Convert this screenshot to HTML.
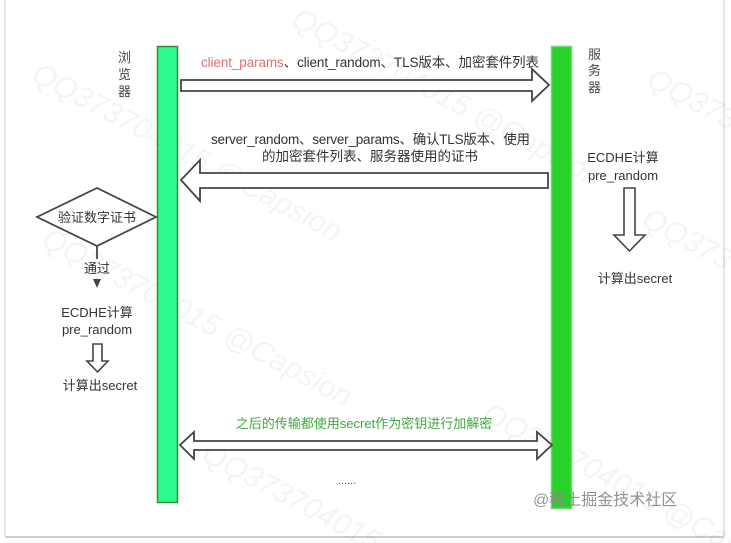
<!DOCTYPE html>
<html><head><meta charset="utf-8"><style>
html,body{margin:0;padding:0;background:#fff;width:731px;height:543px;overflow:hidden;}
svg{display:block;}
text{font-family:"Liberation Sans","Noto Sans CJK SC",sans-serif;}
</style></head><body>
<svg width="731" height="543" viewBox="0 0 731 543" xmlns="http://www.w3.org/2000/svg">
<rect x="0" y="0" width="731" height="543" fill="#fff"/>
<line x1="5" y1="0" x2="5" y2="536" stroke="#ddd" stroke-width="1.5"/>
<line x1="724" y1="0" x2="724" y2="536" stroke="#ddd" stroke-width="1.5"/>
<line x1="5" y1="537" x2="724" y2="537" stroke="#ccc" stroke-width="2"/>

<g fill="#000" opacity="0.045" font-size="30" font-family="Liberation Serif" font-style="italic">
<text transform="translate(30,80) rotate(28)">QQ373704015 @Capsion</text>
<text transform="translate(40,245) rotate(28)">QQ373704015 @Capsion</text>
<text transform="translate(290,25) rotate(28)">QQ373704015 @Capsion</text>
<text transform="translate(645,85) rotate(28)">QQ373</text>
<text transform="translate(640,225) rotate(28)">QQ373</text>
<text transform="translate(200,460) rotate(28)">QQ373704015 @Capsion</text>
<text transform="translate(480,420) rotate(28)">QQ373704015 @Cap</text>
</g>

<rect x="157.5" y="46.5" width="20" height="456" fill="#2bfb8b" stroke="#3a8a3a" stroke-width="1.5"/>
<rect x="551.5" y="46.5" width="20" height="462" fill="#2ad12a" stroke="#6fd86f" stroke-width="1.5"/>

<g font-size="13" fill="#444">
<text x="118" y="62">浏</text><text x="118" y="79">览</text><text x="118" y="96">器</text>
<text x="588" y="59">服</text><text x="588" y="75">务</text><text x="588" y="92">器</text>
</g>

<text x="201" y="67" font-size="13.5" fill="#333" textLength="338"><tspan fill="#e07070">client_params</tspan>、client_random、TLS版本、加密套件列表</text>
<polygon points="181,80 532,80 532,69 549,85 532,101 532,91 181,91" fill="#fff" stroke="#444" stroke-width="1.8"/>

<text x="211" y="144" font-size="13.5" fill="#333" textLength="319">server_random、server_params、确认TLS版本、使用</text>
<text x="370" y="161" font-size="13.5" fill="#333" text-anchor="middle">的加密套件列表、服务器使用的证书</text>
<polygon points="548,173 200,173 200,160 181,180 200,201 200,188 548,188" fill="#fff" stroke="#444" stroke-width="1.8"/>

<polygon points="37,217 97,188 156,217 97,246" fill="#fff" stroke="#444" stroke-width="1.8"/>
<text x="97" y="222" font-size="13" fill="#333" text-anchor="middle">验证数字证书</text>
<line x1="97" y1="246" x2="97" y2="259" stroke="#444" stroke-width="1.8"/>
<text x="97" y="273" font-size="13" fill="#333" text-anchor="middle">通过</text>
<polygon points="93,279 101,279 97,288" fill="#444"/>

<text x="97" y="317" font-size="13" fill="#333" text-anchor="middle">ECDHE计算</text>
<text x="97" y="334" font-size="13" fill="#333" text-anchor="middle">pre_random</text>
<polygon points="93,344 102,344 102,361 108,361 97.5,372 87,361 93,361" fill="#fff" stroke="#444" stroke-width="1.6"/>
<text x="100" y="390" font-size="13" fill="#333" text-anchor="middle">计算出secret</text>

<text x="623" y="162" font-size="13" fill="#333" text-anchor="middle">ECDHE计算</text>
<text x="623" y="180" font-size="13" fill="#333" text-anchor="middle">pre_random</text>
<polygon points="624,188 635,188 635,235 645,235 629.5,251 614,235 624,235" fill="#fff" stroke="#444" stroke-width="1.6"/>
<text x="635" y="283" font-size="13" fill="#333" text-anchor="middle">计算出secret</text>

<text x="364" y="428" font-size="13" fill="#3aaa3a" text-anchor="middle">之后的传输都使用secret作为密钥进行加解密</text>
<polygon points="180,445 194,432 194,441 537,441 537,432 552,445 537,459 537,450 194,450 194,459" fill="#fff" stroke="#444" stroke-width="1.8"/>
<text x="347" y="484" font-size="11" fill="#555" text-anchor="middle">......</text>

<text x="533" y="505" font-size="16" fill="#888" opacity="0.9">@稀土掘金技术社区</text>
</svg>
</body></html>
